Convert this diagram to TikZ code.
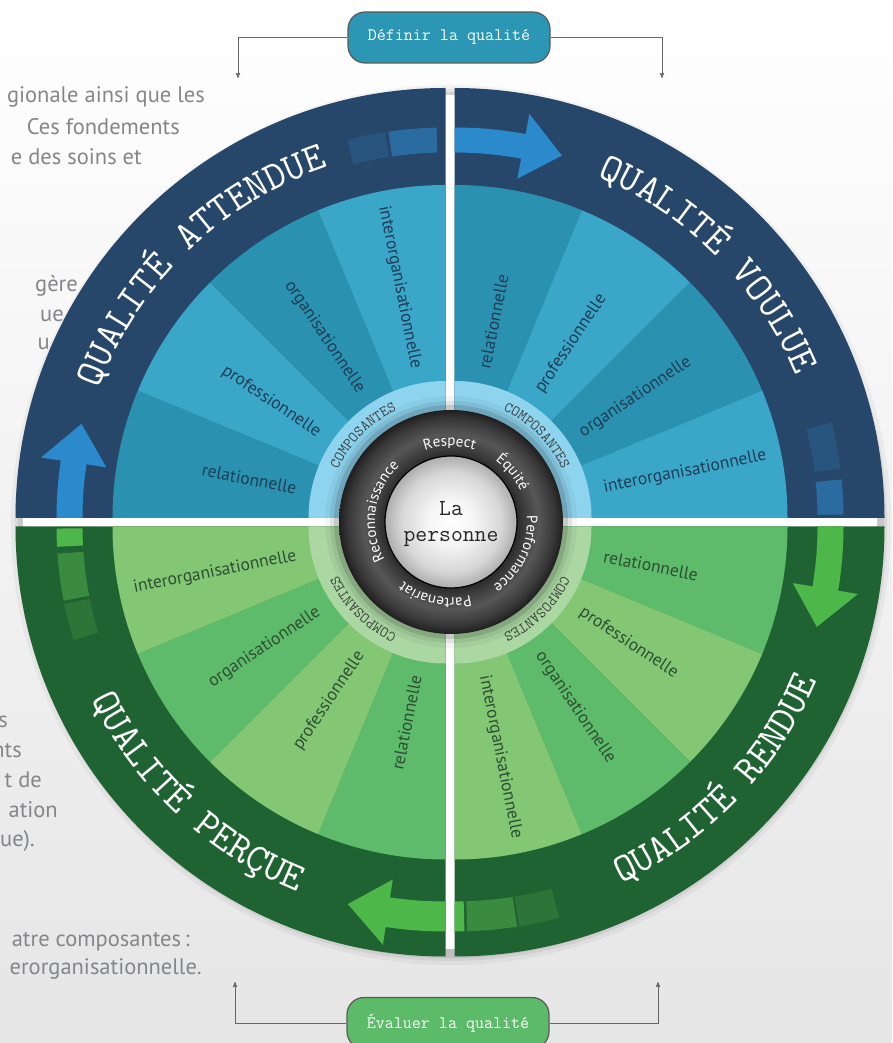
\documentclass[tikz,border=0pt]{standalone}
\usepackage{fontspec}
\setsansfont{PT Sans}
\usetikzlibrary{arrows,decorations.text}

\definecolor{navy}{HTML}{26476A}
\definecolor{forest}{HTML}{1F6333}
\definecolor{tealdark}{HTML}{2A92B0}
\definecolor{teallight}{HTML}{3AA7C8}
\definecolor{greenmid}{HTML}{5DBB6B}
\definecolor{greenlight}{HTML}{83C775}
\definecolor{skyring}{HTML}{8ED4EF}
\definecolor{paleg}{HTML}{AAD7A2}
\definecolor{arrowblue}{HTML}{2A8ACB}
\definecolor{arrowgreen}{HTML}{4DB749}
\definecolor{dashnavy}{HTML}{27557E}
\definecolor{dashblue}{HTML}{2A6C9F}
\definecolor{dashforest}{HTML}{2C7438}
\definecolor{dashgreen}{HTML}{3A8B3F}
\definecolor{bodytext}{HTML}{848689}
\definecolor{labelblue}{HTML}{1E3D57}
\definecolor{labelgreen}{HTML}{2D4F31}
\definecolor{boxteal}{HTML}{2B97B4}
\definecolor{boxgreen}{HTML}{5CBB69}

\newcommand\titrefont{\ttfamily\fontsize{40}{40}\selectfont}
\newcommand\motfont{\sffamily\fontsize{15}{15}\selectfont}
\newcommand\compofont{\ttfamily\fontsize{15}{15}\selectfont}

% piece of ring between two angles
\newcommand\morceau[5]{\fill[#1] (#2:#4-#5) arc[start angle=#2, end angle=#3, radius=#4-#5] -- (#3:#4+#5) arc[start angle=#3, end angle=#2, radius=#4+#5] -- cycle;}
% ring arrow turning clockwise
\newcommand\fleche[5]{\fill[#1] (#2:#4-#5) arc[start angle=#2, end angle=#3, radius=#4-#5] -- (#3:#4-33) -- (#3-6:#4) -- (#3:#4+33) -- (#3:#4+#5) arc[start angle=#3, end angle=#2, radius=#4+#5] -- cycle;}

\pgfdeclareradialshading{anneau}{\pgfpoint{0bp}{0bp}}{color(0bp)=(black!80); color(14bp)=(black!86); color(16bp)=(black!78); color(19.5bp)=(black!66); color(23bp)=(black!78); color(25bp)=(black!88); color(50bp)=(black!88)}
\pgfdeclareradialshading{bille}{\pgfpoint{0bp}{0bp}}{color(0bp)=(white); color(9bp)=(black!4); color(19bp)=(black!16); color(25bp)=(black!32); color(50bp)=(black!32)}

\tikzset{
    %Define standard arrow tip
    >=stealth',
    %Define style for the two boxes
    pill/.style={
           rectangle,
           rounded corners=17pt,
           draw=black!65,
           line width=1.2pt,
           minimum width=202pt,
           minimum height=51pt,
           text=white,
           font=\ttfamily\fontsize{17.5}{20}\selectfont},
    % Define arrow style
    lien/.style={
           ->,
           draw=black!60,
           line width=0.9pt},
    para/.style={
           anchor=base east,
           inner sep=0pt,
           text=bodytext,
           font=\sffamily\fontsize{22.5}{26}\selectfont},
    secteur/.style={
           inner sep=0pt,
           font=\sffamily\fontsize{17.5}{20}\selectfont},
    titre/.style={decorate, decoration={text along path, text align=center, text color=white, text={|\titrefont|#1}}},
    mot/.style={decorate, decoration={text along path, text align=center, text color=white, text={|\motfont|#1}}},
    compo/.style={decorate, decoration={text along path, text align=center, text color=black!75, text={|\compofont|COMPOSANTES}}}
}

\begin{document}
\begin{tikzpicture}[x=1pt, y=1pt]
  \useasboundingbox (0,0) rectangle (892,1043);
  \clip (0,0) rectangle (892,1043);
  \fill[top color=white, bottom color=black!10] (0,0) rectangle (892,1043);

  % text of the page round the wheel
  \node[para] (p1) at (205,940) {gionale ainsi que les};
  \node[para] (p2) at (180,908) {Ces fondements};
  \node[para] (p3) at (142,878) {e des soins et};
  \node[para] (p4) at (78,751) {gère};
  \node[para] (p5) at (64,721) {ue};
  \node[para] (p6) at (50,693) {u};
  \node[para] (p7) at (8,315) {s};
  \node[para] (p8) at (22,285) {nts};
  \node[para] (p9) at (42,255) {t de};
  \node[para] (p10) at (58,225) {ation};
  \node[para] (p11) at (35,196) {ue).};
  \node[para] (p12) at (190,96) {atre composantes\,:};
  \node[para] (p13) at (202,68) {erorganisationnelle.};

  % boxes
  \node[pill, fill=boxteal] (definir) at (449,1005.5) {Définir la qualité};
  \coordinate (defL) at (238,965);
  \coordinate (defR) at (662,965);
  \draw[lien] (definir.west) -| (defL);
  \draw[lien] (definir.east) -| (defR);

  \node[pill, fill=boxgreen] (evaluer) at (448,20) {Évaluer la qualité};
  \coordinate (evaL) at (235,61);
  \coordinate (evaR) at (658,61);
  \draw[lien] (evaluer.west) -| (evaL);
  \draw[lien] (evaluer.east) -| (evaR);

  % the wheel
  \begin{scope}[shift={(450,521)}]
    \foreach \r/\o in {440/.04, 436/.06, 433/.08}
      \fill[black, opacity=\o] (1,-3) circle (\r);
    \fill[white] (-5,-427) rectangle (5,427);
    \fill[white] (-427,-5) rectangle (427,5);
    \foreach \s/\dx/\dy/\ring/\ca/\cb/\inner/\lab/\side/\flip in {
        180/-4.5/4/navy/tealdark/teallight/skyring/labelblue/east/180,
        90/4.5/4/navy/tealdark/teallight/skyring/labelblue/west/0,
        0/4.5/-4.5/forest/greenmid/greenlight/paleg/labelgreen/west/0,
        270/-4.5/-4.5/forest/greenmid/greenlight/paleg/labelgreen/east/180}{
      \begin{scope}[shift={(\dx,\dy)}]
        \fill[\ring] (0,0) -- (\s:430) arc[start angle=\s, end angle=\s-90, radius=430] -- cycle;
        \foreach \nom [count=\k from 0] in {relationnelle,professionnelle,organisationnelle,interorganisationnelle}{
          \pgfmathsetmacro\t{\s-22.5*\k-11.25}
          \ifodd\k \def\col{\cb}\else \def\col{\ca}\fi
          \fill[\col] (0,0) -- (\t+11.25:333) arc[start angle=\t+11.25, end angle=\t-11.25, radius=333] -- cycle;
          \node[secteur, text=\lab, rotate=\t+\flip, anchor=\side] (s\s-\k) at (\t:152) {\nom};
        }
        \fill[\inner] (0,0) -- (\s:137) arc[start angle=\s, end angle=\s-90, radius=137] -- cycle;
      \end{scope}
    }

    % top left
    \begin{scope}[shift={(-4.5,4)}]
      \path[titre=QUALITÉ ATTENDUE] (174:370) arc[start angle=174, end angle=94, radius=370];
      \path[compo] (175:118) arc[start angle=175, end angle=95, radius=118];
      \morceau{dashnavy}{104.6}{98.9}{378}{12.5}
      \morceau{dashblue}{98.4}{91.3}{378}{12.5}
      \fleche{arrowblue}{180}{171.5}{376}{13}
    \end{scope}
    % top right
    \begin{scope}[shift={(4.5,4)}]
      \path[titre=QUALITÉ VOULUE] (85:370) arc[start angle=85, end angle=5, radius=370];
      \path[compo] (85:118) arc[start angle=85, end angle=5, radius=118];
      \fleche{arrowblue}{90}{79.5}{378}{12.5}
      \morceau{dashnavy}{14.2}{7.3}{376}{13}
      \morceau{dashblue}{5.7}{0.5}{376}{13}
    \end{scope}
    % bottom right
    \begin{scope}[shift={(4.5,-4.5)}]
      \path[titre=QUALITÉ RENDUE] (-84:394) arc[start angle=-84, end angle=-4, radius=394];
      \path[compo] (-5:118) arc[start angle=-5, end angle=-85, radius=118];
      \fleche{arrowgreen}{0}{-9.5}{376}{13}
      \morceau{dashforest}{-75}{-80.8}{390}{15}
      \morceau{dashgreen}{-81.1}{-88.2}{390}{15}
      \morceau{arrowgreen}{-88.6}{-90}{390}{15}
    \end{scope}
    % bottom left
    \begin{scope}[shift={(-4.5,-4.5)}]
      \path[titre=QUALITÉ PERÇUE] (187:394) arc[start angle=187, end angle=267, radius=394];
      \path[compo] (265:118) arc[start angle=265, end angle=185, radius=118];
      \fleche{arrowgreen}{270}{261.5}{390}{15}
      \morceau{dashforest}{197}{191.5}{376}{13}
      \morceau{dashgreen}{191}{184}{376}{13}
      \morceau{arrowgreen}{183}{180.3}{376}{13}
    \end{scope}
  \end{scope}

  % the person in the middle
  \begin{scope}[shift={(451,521)}]
    \foreach \r/\o in {126/.04, 121/.07, 117/.12}
      \fill[black, opacity=\o] (0,0) circle (\r);
    \shade[shading=anneau] (0,0) circle (112);
    \shadedraw[shading=bille, draw=black, line width=1.2pt] (0,0) circle (66);
    \node[align=center, text=black!85, font=\ttfamily\fontsize{23}{26}\selectfont] (personne) at (0,-2) {La\\personne};
    \path[mot=Respect] (151:76) arc[start angle=151, end angle=31, radius=76];
    \path[mot=Équité] (99:76) arc[start angle=99, end angle=-21, radius=76];
    \path[mot=Performance] (34:76) arc[start angle=34, end angle=-86, radius=76];
    \path[mot=Partenariat] (-42:76) arc[start angle=-42, end angle=-162, radius=76];
    \path[mot=Reconnaissance] (231:76) arc[start angle=231, end angle=111, radius=76];
  \end{scope}
\end{tikzpicture}
\end{document}
